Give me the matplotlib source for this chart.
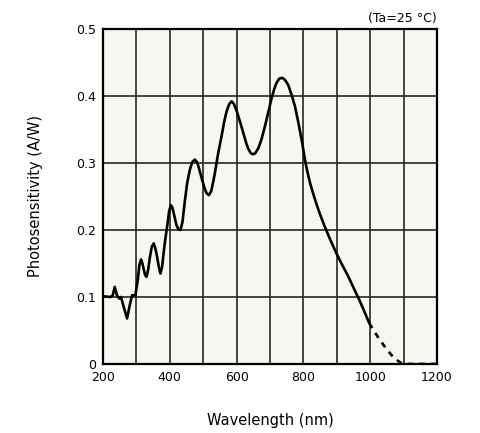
#! /usr/bin/env python3
import matplotlib
matplotlib.use("Agg")
import matplotlib.pyplot as plt
import numpy as np

# Spectral response (nm, A/W)
wavelength = [200, 222, 229, 235, 242, 249, 254, 262, 272, 280, 287, 297,
              304, 309, 314, 318, 322, 326, 330, 335, 340, 346, 352, 357,
              362, 367, 372, 377, 382, 387, 392, 398, 403, 408, 414, 420,
              426, 432, 438, 445, 452, 460, 468, 475, 482, 488, 495, 503,
              510, 517, 524, 530, 535, 545, 555, 563, 570, 578, 585, 592,
              600, 610, 620, 628, 635, 642, 648, 655, 665, 675, 685, 695,
              705, 713, 720, 728, 737, 745, 755, 765, 775, 785, 795, 805,
              812, 820, 830, 839, 850, 864, 880, 898, 915, 933, 950, 967,
              982, 997]
sensitivity = [0.101, 0.100, 0.102, 0.115, 0.102, 0.0975, 0.100, 0.085, 0.068, 0.0875, 0.1025, 0.1025,
               0.125, 0.148, 0.156, 0.150, 0.141, 0.133, 0.130, 0.140, 0.158, 0.175, 0.180, 0.172,
               0.160, 0.145, 0.135, 0.145, 0.168, 0.188, 0.205, 0.228, 0.237, 0.233, 0.220, 0.207,
               0.201, 0.200, 0.212, 0.243, 0.270, 0.290, 0.302, 0.305, 0.301, 0.291, 0.278, 0.264,
               0.255, 0.252, 0.258, 0.272, 0.285, 0.315, 0.340, 0.362, 0.377, 0.388, 0.392, 0.388,
               0.378, 0.362, 0.345, 0.331, 0.321, 0.315, 0.313, 0.314, 0.322, 0.336, 0.355, 0.376,
               0.397, 0.411, 0.420, 0.426, 0.427, 0.424, 0.416, 0.401, 0.384, 0.360, 0.334, 0.304,
               0.287, 0.270, 0.253, 0.239, 0.223, 0.205, 0.186, 0.166, 0.149, 0.132, 0.114, 0.096,
               0.079, 0.061]

# Extrapolated tail (dashed)
tailWavelength = [997, 1022, 1046, 1071, 1091, 1100, 1200]
tailSensitivity = [0.061, 0.041, 0.024, 0.009, 0.002, 0.0, 0.0]

xTicks = [200, 400, 600, 800, 1000, 1200]
yTicks = [0, 0.1, 0.2, 0.3, 0.4, 0.5]
yTickLabels = ["0", "0.1", "0.2", "0.3", "0.4", "0.5"]

fig = plt.figure(figsize=(4.8, 4.33), dpi=100)
ax = fig.add_axes([0.2146, 0.1594, 0.6958, 0.7737])
ax.set_facecolor("#f7f6f0")

#Grid every 100 nm and 0.1 A/W
for x in np.arange(300, 1200, 100):
    ax.axvline(x, color="#262626", lw=1.2, zorder=1)
for y in np.arange(0.1, 0.5, 0.1):
    ax.axhline(y, color="#262626", lw=1.2, zorder=1)

ax.plot(wavelength, sensitivity, color="black", lw=1.9, zorder=3,
        solid_capstyle="round", solid_joinstyle="round")
ax.plot(tailWavelength, tailSensitivity, color="black", lw=1.9, ls=(0, (2.2, 2.2)), zorder=3)

ax.set_xlim(200, 1200)
ax.set_ylim(0, 0.5)
ax.set_xticks(xTicks)
ax.set_yticks(yTicks)
ax.set_yticklabels(yTickLabels)
ax.tick_params(length=0, labelsize=9, pad=5)
for s in ax.spines.values():
    s.set_linewidth(1.6)
    s.set_color("black")

ax.set_xlabel("Wavelength (nm)", fontsize=10.5, labelpad=21)
ax.set_ylabel("Photosensitivity (A/W)", fontsize=10.5, labelpad=24)
ax.text(1.0, 1.012, "(Ta=25 °C)", transform=ax.transAxes, ha="right", va="bottom", fontsize=9)

fig.savefig("out.png", dpi=100)
